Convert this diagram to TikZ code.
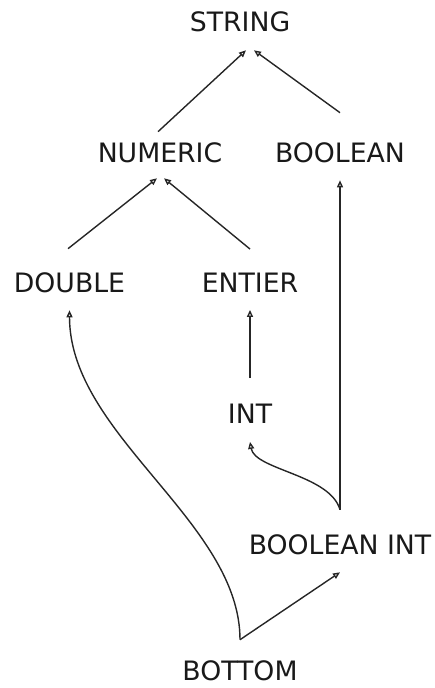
\documentclass[tikz,border=0pt]{standalone}
\usepackage{fontspec}
\setmainfont{DejaVu Sans}
\usetikzlibrary{arrows.meta}
\begin{document}
\begin{tikzpicture}[x=1pt,y=1pt,
  lbl/.style={inner sep=0pt, text=black!90, font=\fontsize{26.7}{32}\selectfont},
  arr/.style={-{Triangle[open,length=7pt,width=6pt]}, line width=1.4pt, black!85}]
\useasboundingbox (0,0) rectangle (435,688);
\node[lbl] (string) at (240,666) {STRING};
\node[lbl] (numeric) at (160,535) {NUMERIC};
\node[lbl] (boolean) at (340,535) {BOOLEAN};
\node[lbl] (double) at (69.5,405) {DOUBLE};
\node[lbl] (entier) at (250,405) {ENTIER};
\node[lbl] (int) at (250,274) {INT};
\node[lbl] (boolint) at (340,143) {BOOLEAN INT};
\node[lbl] (bottom) at (240,17) {BOTTOM};
\draw[arr] ([shift={(-2,11)}]numeric.north) -- ([shift={(6,-18)}]string.south);
\draw[arr] ([shift={(0,30)}]boolean.north) -- ([shift={(14,-18)}]string.south);
\draw[arr] ([shift={(-1.5,24)}]double.north) -- ([shift={(-3,-15)}]numeric.south);
\draw[arr] ([shift={(0,24)}]entier.north) -- ([shift={(4,-15)}]numeric.south);
\draw[arr] ([shift={(0,25)}]boolint.north) -- ([shift={(0,-17)}]boolean.south);
\draw[arr] ([shift={(0,26)}]int.north) -- ([shift={(0,-17)}]entier.south);
\draw[arr] ([shift={(0,25)}]boolint.north) .. controls +(-10,35) and +(5,-28) .. ([shift={(0,-18)}]int.south);
\draw[arr] ([shift={(0,21)}]bottom.north) .. controls +(0,118) and +(0,-125) .. ([shift={(0,-17)}]double.south);
\draw[arr] ([shift={(0,21)}]bottom.north) -- ([shift={(0,-17)}]boolint.south);
\end{tikzpicture}
\end{document}
